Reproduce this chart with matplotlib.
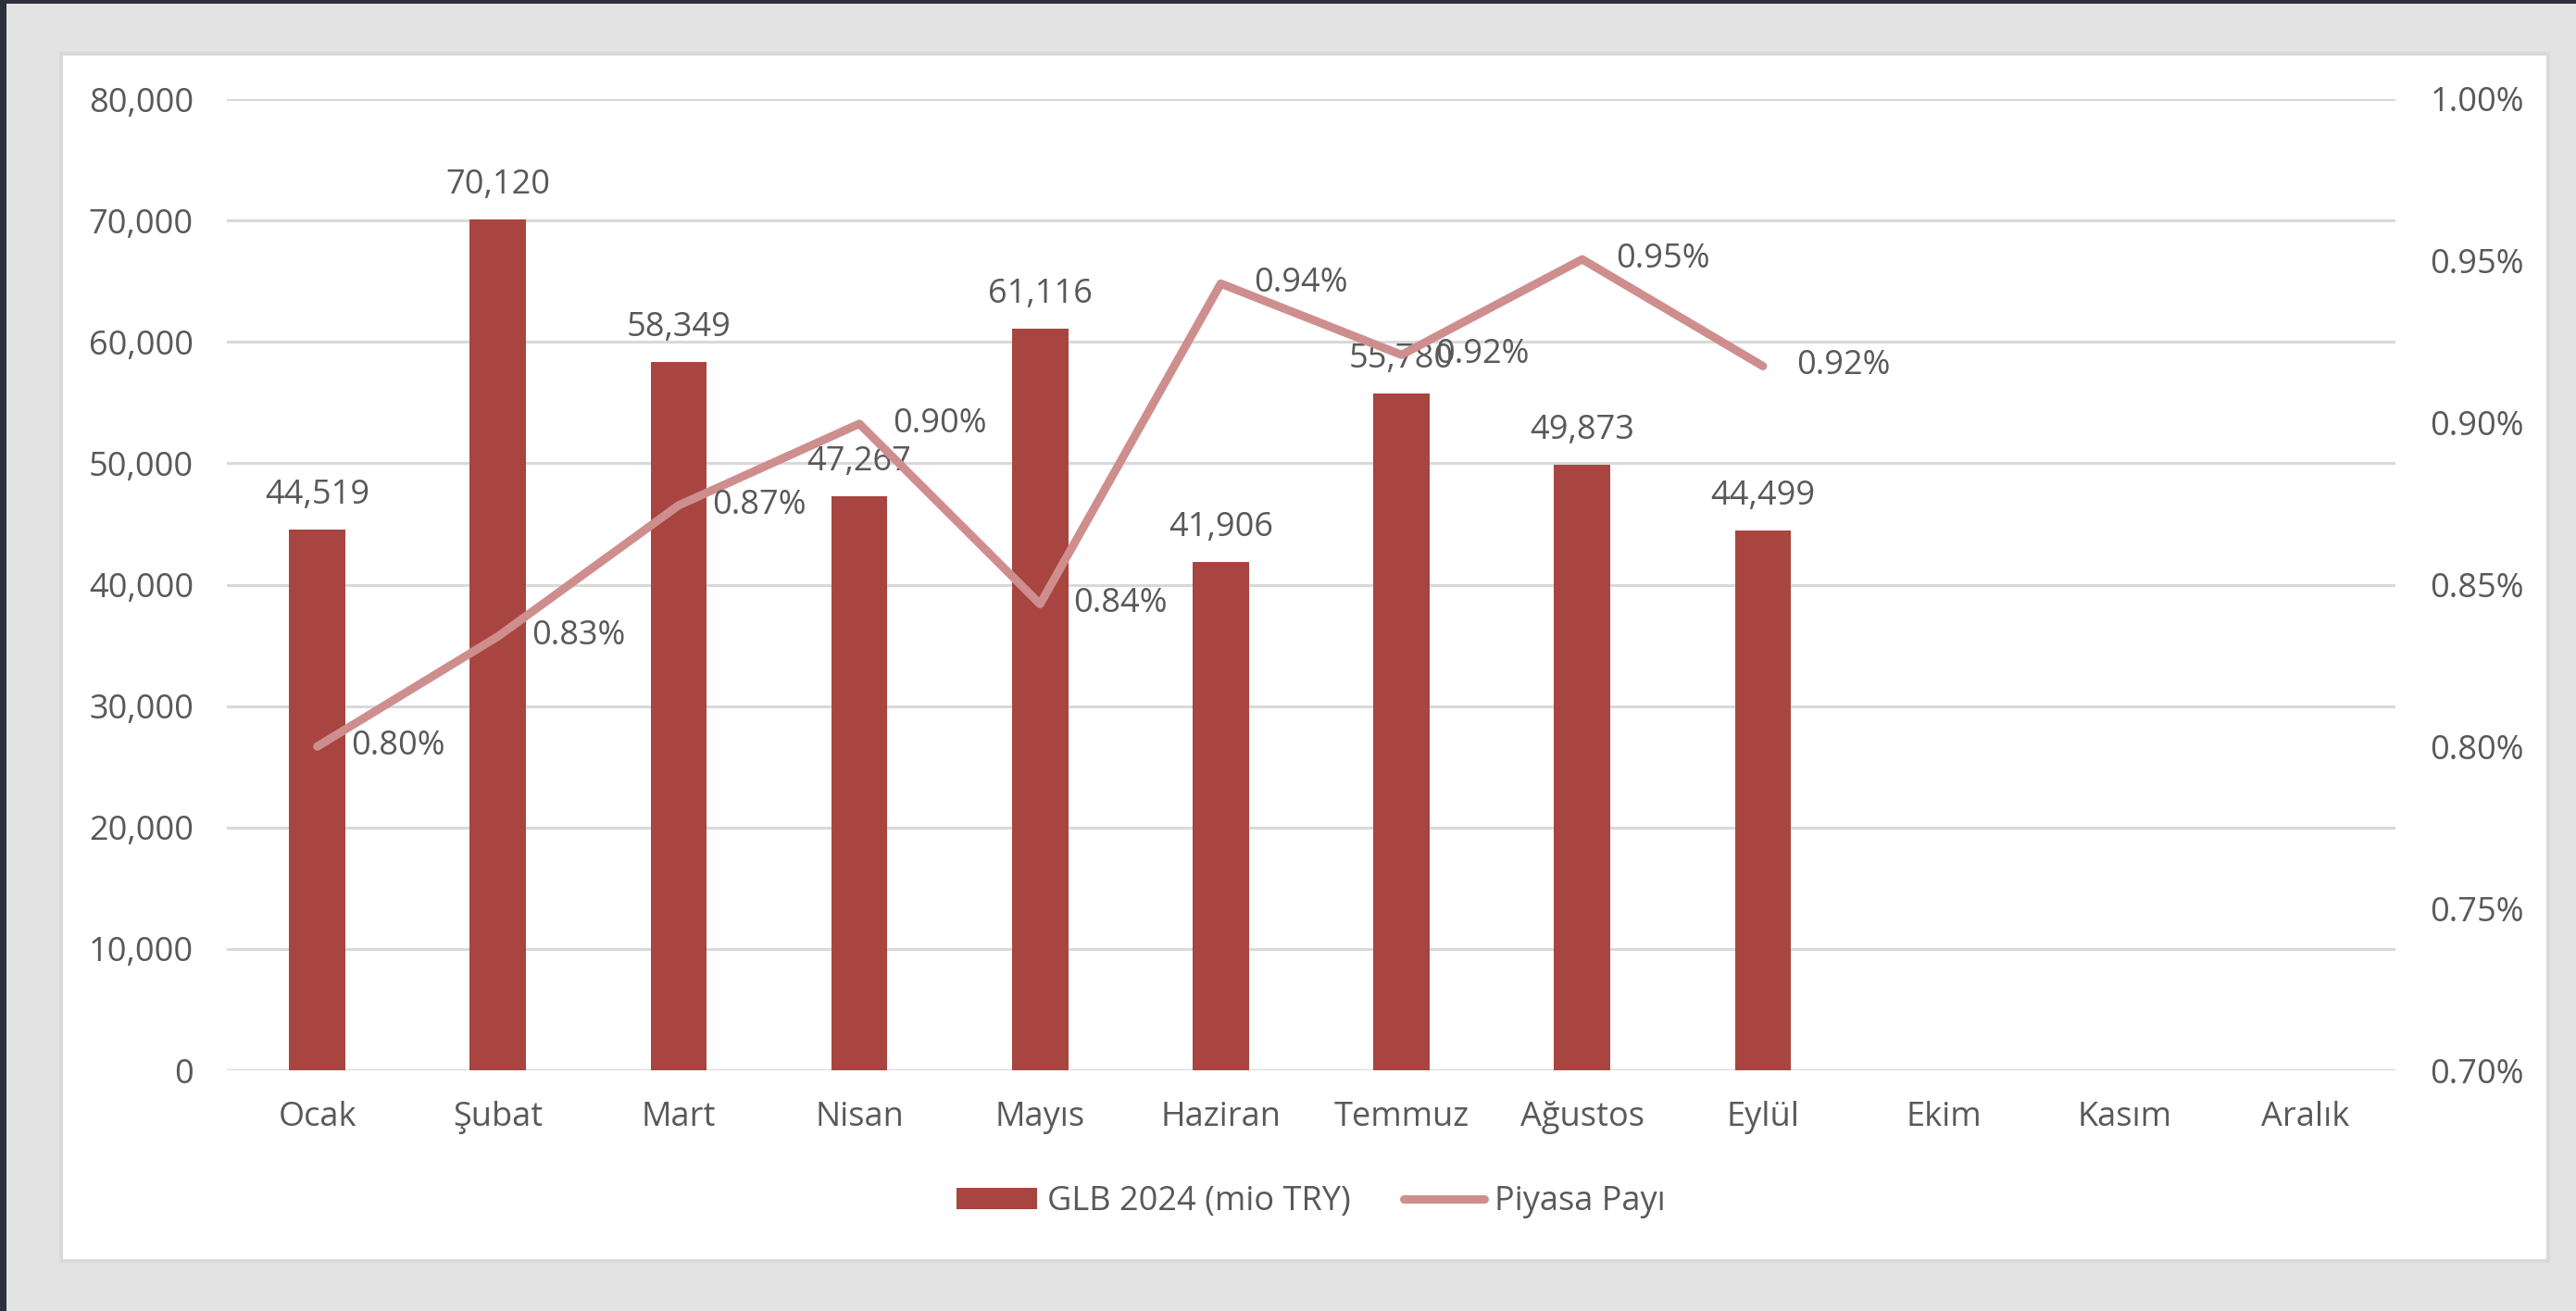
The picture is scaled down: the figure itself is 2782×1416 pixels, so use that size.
import matplotlib
matplotlib.use("Agg")
import matplotlib.pyplot as plt
from matplotlib.patches import Rectangle, Patch
from matplotlib.lines import Line2D
import numpy as np

plt.rcParams['font.family'] = ['Open Sans', 'DejaVu Sans']

months = ["Ocak", "Şubat", "Mart", "Nisan", "Mayıs", "Haziran", "Temmuz",
          "Ağustos", "Eylül", "Ekim", "Kasım", "Aralık"]
glb_values = [44519, 70120, 58349, 47267, 61116, 41906, 55780, 49873, 44499]
share_values = [0.800, 0.834, 0.8745, 0.8997, 0.844, 0.943, 0.921, 0.9505, 0.9175]
left_ticks = [0, 10000, 20000, 30000, 40000, 50000, 60000, 70000, 80000]
right_ticks = [0.70, 0.75, 0.80, 0.85, 0.90, 0.95, 1.00]
bar_label = "GLB 2024 (mio TRY)"
line_label = "Piyasa Payı"

W, H = 2782, 1416
BAR_C = "#a84541"
LINE_C = "#cf8e8e"
TXT_C = "#595959"
GRID_C = "#d9d9d9"
FS = 26

fig = plt.figure(figsize=(W / 100, H / 100), dpi=100)
fig.patch.set_facecolor("#e3e3e3")

# white chart panel
fig.add_artist(Rectangle((66 / W, 1 - 1362 / H), (2752 - 66) / W, (1362 - 58) / H,
                         transform=fig.transFigure, facecolor="white",
                         edgecolor=GRID_C, linewidth=3, zorder=0))
# dark frame edges (left, top)
fig.add_artist(Rectangle((0, 0), 7 / W, 1, transform=fig.transFigure,
                         facecolor="#2c303b", edgecolor="none", zorder=1))
fig.add_artist(Rectangle((0, 1 - 4 / H), 1, 4 / H, transform=fig.transFigure,
                         facecolor="#2c303b", edgecolor="none", zorder=1))

ax = fig.add_axes([245 / W, 1 - 1156 / H, (2587 - 245) / W, (1156 - 107) / H])
ax.set_facecolor("none")
x = np.arange(len(months))
xb = x[:len(glb_values)]
ax.bar(xb, glb_values, width=0.31, color=BAR_C, zorder=3)
ax.set_xlim(-0.5, len(months) - 0.5)
ax.set_ylim(0, 80000)
ax.set_yticks(left_ticks)
ax.set_yticklabels([f"{v:,.0f}" for v in left_ticks])
ax.set_xticks(x)
ax.set_xticklabels(months)
ax.grid(axis="y", color=GRID_C, linewidth=2.2, zorder=0)
ax.set_axisbelow(True)
for s in ax.spines.values():
    s.set_visible(False)
ax.tick_params(axis="both", length=0, labelsize=FS, labelcolor=TXT_C)
ax.tick_params(axis="y", pad=26)
ax.tick_params(axis="x", pad=24)

for xi, v in zip(xb, glb_values):
    ax.annotate(f"{v:,.0f}", (xi, v), xytext=(0, 20), textcoords="offset points",
                ha="center", va="baseline", fontsize=FS, color=TXT_C, zorder=5)

ax2 = ax.twinx()
ax2.set_ylim(0.70, 1.00)
ax2.set_yticks(right_ticks)
ax2.set_yticklabels([f"{v:.2f}%" for v in right_ticks])
for s in ax2.spines.values():
    s.set_visible(False)
ax2.tick_params(axis="y", length=0, labelsize=FS, labelcolor=TXT_C, pad=27)
xl = x[:len(share_values)]
ax2.plot(xl, share_values, color=LINE_C, linewidth=6.5, solid_capstyle="round",
         solid_joinstyle="round", zorder=4)
for xi, v in zip(xl, share_values):
    ax2.annotate(f"{v:.2f}%", (xi, v), xytext=(26, 0), textcoords="offset points",
                 ha="left", va="center", fontsize=FS, color=TXT_C, zorder=5)

handles = [Patch(facecolor=BAR_C, edgecolor="none"),
           Line2D([0], [0], color=LINE_C, linewidth=6.5, solid_capstyle="round")]
leg = fig.legend(handles, [bar_label, line_label], loc="center",
                 bbox_to_anchor=(1416 / W, 1 - 1298 / H), ncol=2, frameon=False,
                 fontsize=FS, handlelength=2.4, handleheight=0.6,
                 handletextpad=0.3, columnspacing=1.6)
for t in leg.get_texts():
    t.set_color(TXT_C)

fig.savefig("out.png", dpi=100, facecolor=fig.get_facecolor())
